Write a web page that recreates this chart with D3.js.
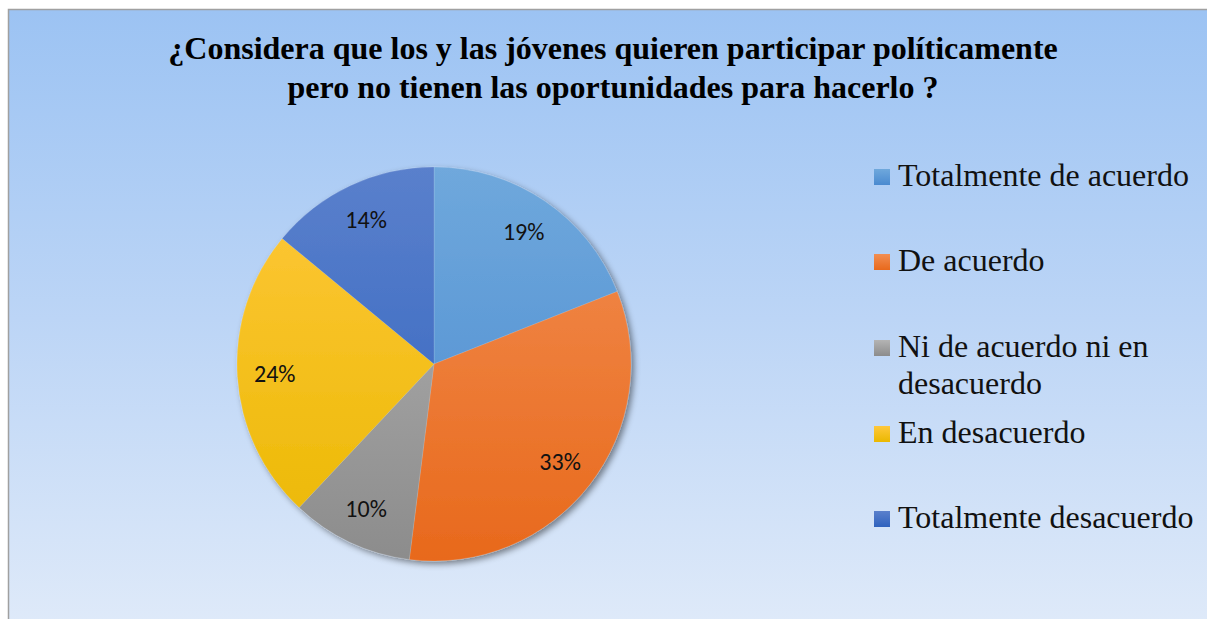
<!DOCTYPE html>
<html>
<head>
<meta charset="utf-8">
<script src="https://cdn.jsdelivr.net/npm/d3@7"></script>
<style>
  body { margin: 0; background: #fff; }
  svg { display: block; }
</style>
</head>
<body>
<div id="chart"></div>
<script>
// data
var categories = ["Totalmente de acuerdo", "De acuerdo", "Ni de acuerdo ni en desacuerdo", "En desacuerdo", "Totalmente desacuerdo"];
var values = [19, 33, 10, 24, 14];
var legendLines = [["Totalmente de acuerdo"], ["De acuerdo"], ["Ni de acuerdo ni en", "desacuerdo"], ["En desacuerdo"], ["Totalmente desacuerdo"]];
var titleLines = ["¿Considera que los y las jóvenes quieren participar políticamente", "pero no tienen las oportunidades para hacerlo ?"];

var colors = [
  ["#6fa8dc", "#4a8ad0"],
  ["#f28e52", "#e8691c"],
  ["#b4b4b4", "#8c8c8c"],
  ["#ffc83c", "#eab800"],
  ["#5a80cc", "#2f62be"]
];

var svgWidth = 1207, svgHeight = 619;
var cx = 434, cy = 364, radius = 197;
var serif = "'Liberation Serif', 'Times New Roman', Times, serif";

var svg = d3.select("#chart").append("svg")
  .attr("width", svgWidth)
  .attr("height", svgHeight);

var defs = svg.append("defs");

var bg = defs.append("linearGradient").attr("id", "bg")
  .attr("x1", 0).attr("y1", 0).attr("x2", 0).attr("y2", 1);
bg.append("stop").attr("offset", "0%").attr("stop-color", "#9cc3f3");
bg.append("stop").attr("offset", "50%").attr("stop-color", "#bcd5f6");
bg.append("stop").attr("offset", "100%").attr("stop-color", "#dfeaf9");

colors.forEach(function(c, i) {
  var g = defs.append("linearGradient").attr("id", "slice" + i)
    .attr("gradientUnits", "userSpaceOnUse")
    .attr("x1", 0).attr("y1", -radius).attr("x2", 0).attr("y2", radius);
  g.append("stop").attr("offset", "0%").attr("stop-color", c[0]);
  g.append("stop").attr("offset", "100%").attr("stop-color", c[1]);

  var lg = defs.append("linearGradient").attr("id", "leg" + i)
    .attr("x1", 0).attr("y1", 0).attr("x2", 0).attr("y2", 1);
  lg.append("stop").attr("offset", "0%").attr("stop-color", c[0]);
  lg.append("stop").attr("offset", "100%").attr("stop-color", c[1]);
});

var shadow = defs.append("filter").attr("id", "shadow")
  .attr("x", "-10%").attr("y", "-10%").attr("width", "120%").attr("height", "120%");
shadow.append("feDropShadow")
  .attr("dx", 3).attr("dy", 3).attr("stdDeviation", 3)
  .attr("flood-color", "#000").attr("flood-opacity", 0.45);

// background panel
svg.append("rect")
  .attr("x", 8.5).attr("y", 9.5)
  .attr("width", svgWidth + 10).attr("height", svgHeight)
  .attr("fill", "url(#bg)")
  .attr("stroke", "#a0a0a0")
  .attr("stroke-width", 1.5);

// title
svg.append("g").selectAll("text").data(titleLines).enter().append("text")
  .attr("x", 613)
  .attr("y", (d, i) => 59 + i * 39)
  .attr("text-anchor", "middle")
  .style("font-family", serif)
  .attr("font-weight", "bold")
  .attr("font-size", "32px")
  .attr("fill", "#000")
  .text(d => d);

// pie
var pie = d3.pie().sort(null).value(d => d);
var arc = d3.arc().innerRadius(0).outerRadius(radius);
var labelArc = d3.arc().innerRadius(radius * 0.81).outerRadius(radius * 0.81);

var chartGroup = svg.append("g")
  .attr("transform", `translate(${cx}, ${cy})`);

var arcs = pie(values);

chartGroup.append("g")
  .attr("filter", "url(#shadow)")
  .selectAll("path").data(arcs).enter().append("path")
  .attr("d", arc)
  .attr("fill", (d, i) => `url(#slice${i})`)
  .attr("stroke", "rgba(255,255,255,0.25)")
  .attr("stroke-width", 0.5);

chartGroup.selectAll("text.lbl").data(arcs).enter().append("text")
  .attr("class", "lbl")
  .attr("transform", d => `translate(${labelArc.centroid(d)})`)
  .attr("text-anchor", "middle")
  .attr("dy", "0.35em")
  .style("font-family", "Carlito, Lato, sans-serif")
  .attr("font-size", "24px")
  .attr("fill", "#111")
  .text(d => d.data + "%");

// legend
var legendY = [186, 271, 357, 443, 528];
var legend = svg.append("g");
categories.forEach(function(c, i) {
  var g = legend.append("g").attr("transform", `translate(874, ${legendY[i]})`);
  g.append("rect")
    .attr("x", 0).attr("y", -17)
    .attr("width", 16).attr("height", 16)
    .attr("fill", `url(#leg${i})`);
  g.selectAll("text").data(legendLines[i]).enter().append("text")
    .attr("x", 24)
    .attr("y", (d, j) => j * 37)
    .style("font-family", serif)
    .attr("font-size", "32px")
    .attr("fill", "#111")
    .text(d => d);
});
</script>
</body>
</html>
